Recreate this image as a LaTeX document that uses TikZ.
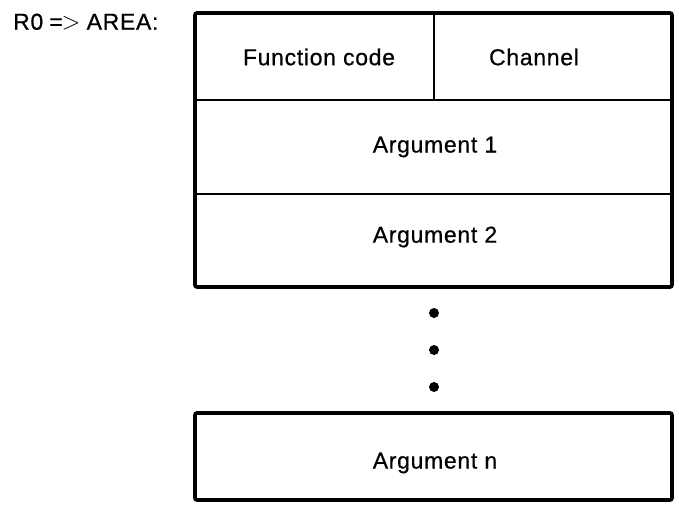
\documentclass[tikz,border=0pt]{standalone}
\usepackage{fontspec}
\setmainfont{Liberation Sans}[FakeBold=0.6]
\newfontfamily\lblfont{Liberation Sans}[LetterSpace=3,FakeBold=0.6]
\begin{document}
\begin{tikzpicture}[x=1pt,y=-1pt,
  outer/.style={line width=3.6pt,rounded corners=2pt},
  inner/.style={line width=2.6pt},
  lbl/.style={font=\lblfont\fontsize{23}{26}\selectfont,inner sep=0pt},
  dotmark/.style={fill=black,draw=none}]
\useasboundingbox (0,0) rectangle (679,504);
% label
\node[lbl,anchor=west] (head) at (13,22) {R0\hspace{6pt}=\kern-1pt$>$\hspace{6pt}AREA:};
% main frame
\draw[outer] (195,13) rectangle (672,287);
\draw[inner] (195,100) -- (672,100);
\draw[inner] (195,194) -- (672,194);
\draw[inner] (434,13) -- (434,100);
\node[lbl] (fc) at (319,57) {Function code};
\node[lbl] (ch) at (534,57) {Channel};
\node[lbl] (a1) at (435,147) {Argument 1};
\node[lbl] (a2) at (435,237) {Argument 2};
% dots
\fill[dotmark] (434,313) circle (5);
\fill[dotmark] (434,350) circle (5);
\fill[dotmark] (434,387) circle (5);
% last box
\draw[outer] (195,413) rectangle (672,500);
\node[lbl] (an) at (435,463) {Argument n};
\end{tikzpicture}
\end{document}
